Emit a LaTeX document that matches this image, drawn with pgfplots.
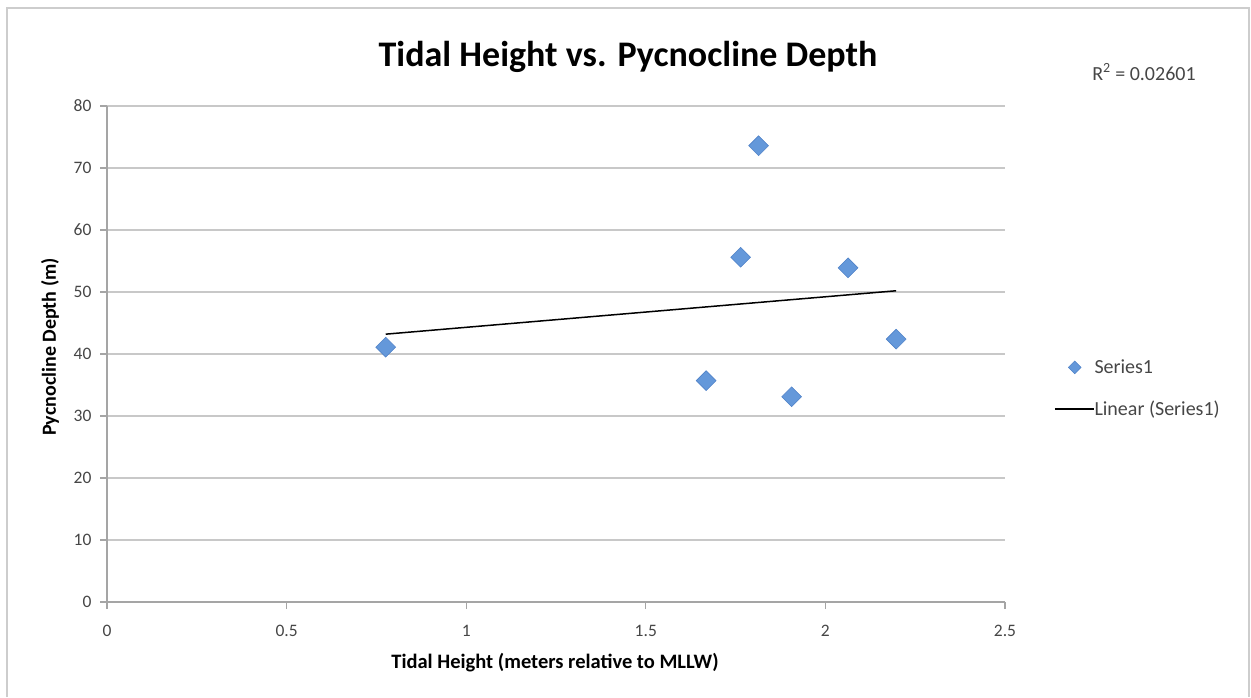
\documentclass[border=0pt]{standalone}
\usepackage{pgfplots}
\pgfplotsset{compat=1.18}
\usepackage{fontspec}
\setmainfont{Carlito}

\definecolor{gridgray}{RGB}{200,200,200}
\definecolor{axisgray}{RGB}{165,165,165}
\definecolor{ticktext}{RGB}{70,70,70}
\definecolor{frame}{RGB}{205,205,205}
\definecolor{markblue}{RGB}{100,152,218}
\definecolor{markedge}{RGB}{80,130,200}

\begin{document}
\begin{tikzpicture}[x=1pt,y=1pt]
  % page extent and outer chart frame
  \path[use as bounding box] (0,0) rectangle (1251,697);
  \draw[frame,line width=2.2pt] (7,0) -- (7,689) -- (1249,689) -- (1249,0);

  \begin{axis}[
    at={(107pt,95pt)}, anchor=south west,
    width=898pt, height=496pt, scale only axis,
    xmin=0, xmax=2.5, ymin=0, ymax=80,
    xtick={0,0.5,...,2.5}, ytick={0,10,...,80},
    xticklabels={0,0.5,1,1.5,2,2.5},
    axis x line*=bottom, axis y line*=left,
    axis line style={axisgray,line width=1.3pt,-},
    ymajorgrids, grid style={gridgray,line width=1.6pt},
    tick style={axisgray,line width=1.3pt},
    tick align=outside, major tick length=7pt,
    ticklabel style={font=\fontsize{17.5}{20}\selectfont, text=ticktext},
    /pgf/number format/assume math mode=true,
    xticklabel style={yshift=-13pt},
    yticklabel style={xshift=-5pt},
    legend style={draw=none, fill=none, inner sep=0pt, outer sep=0pt,
      at={(947pt,213.5pt)}, anchor=west,
      font=\fontsize{20}{24}\selectfont, text=ticktext,
      row sep=26pt, nodes={inner sep=0pt},
      /tikz/every even column/.append style={column sep=5pt}},
    legend cell align=left,
    clip=false,
  ]
    % observations
    \addplot[only marks, mark=square*, mark size=7pt,
      mark options={rotate=45, fill=markblue, draw=markedge, line width=0.6pt},
      legend image code/.code={
        \path[draw=none,fill=none] (0pt,0pt) -- (39pt,0pt);
        \fill[markblue,draw=markedge,line width=0.5pt,rotate around={45:(20pt,0pt)}]
          (15.5pt,-4.5pt) rectangle (24.5pt,4.5pt);}]
      table[row sep=\\] {
        x y \\
        0.776 41.1 \\
        1.668 35.7 \\
        1.764 55.6 \\
        1.814 73.6 \\
        1.906 33.1 \\
        2.063 53.9 \\
        2.197 42.4 \\
      };
    \addlegendentry{Series1}

    % least-squares trend line
    \addplot[black, line width=1.5pt, mark=none,
      legend image code/.code={\draw[black,line width=1.5pt] (0pt,0pt) -- (39pt,0pt);}]
      coordinates {(0.776,43.2) (2.197,50.2)};
    \addlegendentry{Linear (Series1)}
  \end{axis}

  % titles and annotation
  \node[font=\fontsize{36}{42}\selectfont\bfseries] at (628,640) {Tidal Height vs. Pycnocline Depth};
  \node[font=\fontsize{20.5}{24}\selectfont\bfseries] at (555,34) {Tidal Height (meters relative to MLLW)};
  \node[font=\fontsize{20}{24}\selectfont\bfseries, rotate=90] at (50,350) {Pycnocline Depth (m)};
  \node[font=\fontsize{20}{24}\selectfont, text=ticktext] at (1144,625) {R\textsuperscript{2} = 0.02601};
\end{tikzpicture}
\end{document}
